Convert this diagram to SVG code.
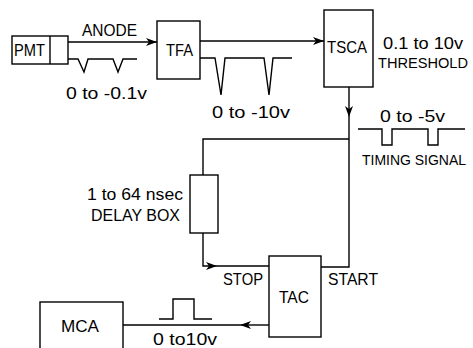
<svg xmlns="http://www.w3.org/2000/svg" width="473" height="348" viewBox="0 0 473 348">
<defs>
<marker id="arr" markerUnits="userSpaceOnUse" markerWidth="12" markerHeight="10" refX="11" refY="4" orient="auto" overflow="visible">
<path d="M0,0 L11,4 L0,8 L3,4 z" fill="#000"/>
</marker>
<style>
.b{fill:#fff;stroke:#000;stroke-width:1.4}
.l{fill:none;stroke:#000;stroke-width:1.4}
.t{font-family:"Liberation Sans",Arial,sans-serif;font-size:17px;fill:#000}
.s{font-size:15px}
.s2{font-size:14px}
</style>
</defs>
<rect width="473" height="348" fill="#fff"/>
<g id="connectors">
<path class="l" d="M68,42 H157" marker-end="url(#arr)"/>
<path class="l" d="M200,41 H324" marker-end="url(#arr)"/>
<path class="l" d="M349,87 V117" marker-end="url(#arr)"/>
<path class="l" d="M349,117 V267 H321"/>
<path class="l" d="M349,139 H203 V175"/>
<path class="l" d="M203,233 V266 H217" marker-end="url(#arr)"/>
<path class="l" d="M217,266 H269"/>
<path class="l" d="M269,325 H240" marker-end="url(#arr)"/>
<path class="l" d="M240,325 H123"/>
</g>
<g id="pulses">
<path class="l" d="M68,59 H78 L84,72 L88,59 H113 L118,72 L123,59 H137"/>
<path class="l" d="M200,58 H215 L221,95 L225,58 H264 L269,95 L273,58 H292"/>
<path class="l" d="M358,129 H382 V145 H392 V129 H428 V145 H438 V129 H465"/>
<path class="l" d="M159,319 H173 V299 H194 V319 H212"/>
</g>
<g id="pmt">
<rect class="b" x="12" y="36" width="56" height="28"/>
<line class="l" x1="50" y1="36" x2="50" y2="64"/>
<text class="t" x="14" y="56" textLength="31" lengthAdjust="spacingAndGlyphs">PMT</text>
</g>
<g id="tfa">
<rect class="b" x="157" y="21" width="43" height="58"/>
<text class="t" x="166" y="56" textLength="27" lengthAdjust="spacingAndGlyphs">TFA</text>
</g>
<g id="tsca">
<rect class="b" x="324" y="10" width="49" height="77"/>
<text class="t" x="327" y="53" textLength="40" lengthAdjust="spacingAndGlyphs">TSCA</text>
</g>
<g id="delay">
<rect class="b" x="190" y="175" width="28" height="58"/>
</g>
<g id="tac">
<rect class="b" x="269" y="256" width="52" height="81"/>
<text class="t" x="279" y="303" textLength="30" lengthAdjust="spacingAndGlyphs">TAC</text>
</g>
<g id="mca">
<rect class="b" x="40" y="302" width="83" height="60"/>
<text class="t" x="61" y="332" textLength="38" lengthAdjust="spacingAndGlyphs">MCA</text>
</g>
<g id="labels">
<text class="t" x="82" y="36" textLength="55" lengthAdjust="spacingAndGlyphs">ANODE</text>
<text class="t" x="66" y="99" textLength="81" lengthAdjust="spacingAndGlyphs">0 to -0.1v</text>
<text class="t" x="212" y="118" textLength="78" lengthAdjust="spacingAndGlyphs">0 to -10v</text>
<text class="t" x="383" y="49" textLength="80" lengthAdjust="spacingAndGlyphs">0.1 to 10v</text>
<text class="t s" x="378" y="68" textLength="90" lengthAdjust="spacingAndGlyphs">THRESHOLD</text>
<text class="t s2" x="362" y="165" textLength="104" lengthAdjust="spacingAndGlyphs">TIMING SIGNAL</text>
<text class="t" x="380" y="122" textLength="65" lengthAdjust="spacingAndGlyphs">0 to -5v</text>
<text class="t" x="87" y="200" textLength="96" lengthAdjust="spacingAndGlyphs">1 to 64 nsec</text>
<text class="t" x="91" y="221" textLength="89" lengthAdjust="spacingAndGlyphs">DELAY BOX</text>
<text class="t" x="223" y="285" textLength="40" lengthAdjust="spacingAndGlyphs">STOP</text>
<text class="t" x="328" y="285" textLength="50" lengthAdjust="spacingAndGlyphs">START</text>
<text class="t" x="153" y="345" textLength="64" lengthAdjust="spacingAndGlyphs">0 to10v</text>
</g>
</svg>
